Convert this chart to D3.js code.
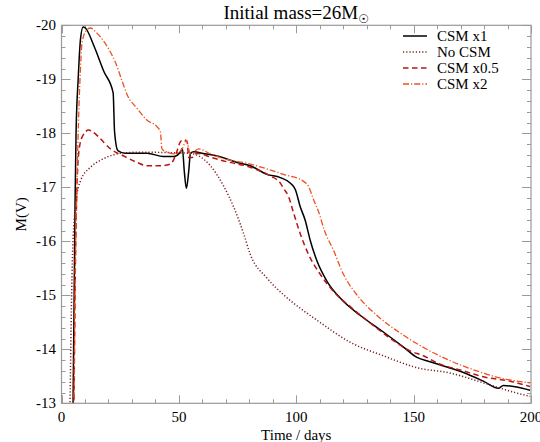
<!DOCTYPE html>
<html>
<head>
<meta charset="utf-8">
<script src="https://cdn.jsdelivr.net/npm/d3@7"></script>
<style>
  html, body { margin: 0; padding: 0; background: #fff; }
  svg { display: block; }
  svg text { font-family: 'Liberation Serif', 'DejaVu Serif', serif; }
</style>
</head>
<body>
<div id="chart"></div>
<script>
// Light curves, M(V) vs time, for a 26 Msun progenitor with varying CSM.

// [day, M(V)] pairs
const csmX1 = [
  [4.9, -12.9], [5.5, -15.5], [5.8, -16.8], [6.2, -18.0], [7.1, -19.0], [8.1, -19.75],
  [9.2, -19.97], [10.2, -19.95], [13.7, -19.63], [18.0, -19.15], [22.0, -18.75],
  [22.6, -18.03], [24.0, -17.68], [27.2, -17.63], [36.5, -17.63], [43.4, -17.57],
  [47.7, -17.57], [50.6, -17.65], [51.5, -17.72], [52.3, -17.3], [53.2, -16.98],
  [54.2, -17.3], [54.9, -17.62], [56.3, -17.66], [61.0, -17.62], [66.3, -17.58],
  [74.8, -17.46], [80.4, -17.40], [87.5, -17.24], [93.2, -17.18], [97.4, -17.08],
  [99.6, -16.96], [101.7, -16.64], [103.8, -16.39], [106.0, -16.01], [108.8, -15.64],
  [113.1, -15.26], [118.7, -14.95], [127.2, -14.63], [137.1, -14.32], [145.7, -14.04],
  [151.4, -13.85], [157.0, -13.77], [162.7, -13.69], [171.2, -13.57], [179.7, -13.41],
  [186.1, -13.28], [188.2, -13.33], [193.9, -13.30], [199.6, -13.24]
];
const noCsm = [
  [3.6, -12.9], [4.6, -15.6], [5.4, -16.4], [6.0, -16.7], [8.1, -17.12], [12.3, -17.37],
  [16.6, -17.5], [19.4, -17.56], [25.1, -17.63], [33.6, -17.65], [47.8, -17.64],
  [54.9, -17.63], [58.5, -17.58], [63.4, -17.40], [69.1, -17.02], [73.3, -16.64],
  [77.6, -16.14], [80.4, -15.76], [87.5, -15.32], [94.6, -15.01], [101.7, -14.76],
  [108.8, -14.54], [123.0, -14.13], [137.1, -13.88], [151.4, -13.66], [165.5, -13.56],
  [179.7, -13.38], [193.9, -13.19], [199.6, -13.13]
];
const csmX05 = [
  [5.3, -12.9], [5.9, -15.5], [6.6, -17.0], [7.5, -17.7], [9.0, -17.95], [11.6, -18.06],
  [13.5, -18.02], [15.9, -17.93], [20.9, -17.71], [26.5, -17.58], [32.2, -17.46],
  [36.5, -17.40], [42.1, -17.40], [46.4, -17.43], [48.5, -17.58], [50.6, -17.84],
  [51.8, -17.88], [53.5, -17.85], [54.2, -17.55], [55.6, -17.55], [57.7, -17.63],
  [63.4, -17.56], [68.0, -17.50], [80.4, -17.37], [88.9, -17.21], [93.2, -17.08],
  [94.6, -16.98], [96.7, -16.83], [98.9, -16.52], [101.7, -16.14], [105.2, -15.76],
  [110.2, -15.39], [115.9, -15.07], [123.0, -14.79], [132.9, -14.44], [141.4, -14.16],
  [148.5, -13.97], [154.2, -13.88], [159.9, -13.75], [171.2, -13.60], [179.7, -13.49],
  [191.1, -13.41], [199.6, -13.31]
];
const csmX2 = [
  [5.3, -12.9], [5.9, -15.5], [6.7, -17.3], [8.1, -19.22], [8.8, -19.69], [10.5, -19.9],
  [12.3, -19.95], [15.2, -19.85], [18.7, -19.66], [21.6, -19.44], [23.0, -19.31],
  [25.8, -18.97], [28.0, -18.71], [32.2, -18.46], [36.5, -18.24], [40.7, -18.12],
  [42.1, -18.03], [42.8, -17.71], [45.0, -17.65], [48.5, -17.62], [51.4, -17.71],
  [53.2, -17.87], [54.9, -17.62], [56.5, -17.66], [58.4, -17.71], [63.4, -17.62],
  [67.7, -17.55], [80.4, -17.43], [94.6, -17.24], [103.1, -17.11], [105.2, -17.02],
  [107.4, -16.77], [109.5, -16.55], [112.0, -16.2], [115.9, -15.83], [120.1, -15.39],
  [125.8, -15.01], [134.3, -14.63], [145.7, -14.26], [155.6, -14.00], [165.5, -13.79],
  [176.9, -13.60], [186.8, -13.47], [199.6, -13.38]
];

const xTicks = [0, 50, 100, 150, 200];
const yTicks = [-20, -19, -18, -17, -16, -15, -14, -13];

const series = [
  { name: 'CSM x1', data: csmX1, color: '#000000', dash: null, width: 1.5 },
  { name: 'No CSM', data: noCsm, color: '#7d1f1f', dash: '1.2,2', width: 1.5 },
  { name: 'CSM x0.5', data: csmX05, color: '#b81414', dash: '5.5,3.5', width: 1.5 },
  { name: 'CSM x2', data: csmX2, color: '#ee5020', dash: '6,2,1.2,2', width: 1.3 }
];

const W = 540, H = 442;
const frame = { left: 61.5, right: 531, top: 25.3, bottom: 403.3 };
const axisColor = '#9a9a9a';
const serif = "'Liberation Serif', 'Times New Roman', 'DejaVu Serif', serif";

const svg = d3.select('#chart').append('svg').attr('width', W).attr('height', H)
  .attr('font-family', serif);

const x = d3.scaleLinear().domain([0, 200]).range([frame.left, frame.right]);
const y = d3.scaleLinear().domain([-13, -20]).range([frame.bottom, frame.top]);

svg.append('defs').append('clipPath').attr('id', 'plotclip')
  .append('rect')
  .attr('x', frame.left).attr('y', frame.top)
  .attr('width', frame.right - frame.left).attr('height', frame.bottom - frame.top);

// ticks: IDL style, inward on all four sides
function drawTicks() {
  const g = svg.append('g').attr('stroke', axisColor).attr('stroke-width', 1);
  const major = 8, minor = 4;
  d3.range(0, 201, 10).forEach(v => {
    const len = v % 50 === 0 ? major : minor;
    const px = Math.round(x(v)) + 0.5;
    g.append('line').attr('x1', px).attr('x2', px).attr('y1', frame.bottom).attr('y2', frame.bottom - len);
    g.append('line').attr('x1', px).attr('x2', px).attr('y1', frame.top).attr('y2', frame.top + len);
  });
  d3.range(0, 36).forEach(i => {
    const v = -13 - i * 0.2;
    const len = i % 5 === 0 ? major + 1 : minor;
    const py = Math.round(y(v)) + 0.5;
    g.append('line').attr('x1', frame.left).attr('x2', frame.left + len).attr('y1', py).attr('y2', py);
    g.append('line').attr('x1', frame.right).attr('x2', frame.right - len).attr('y1', py).attr('y2', py);
  });
}
drawTicks();

// curves
const line = d3.line().x(d => x(d[0])).y(d => y(d[1])).curve(d3.curveMonotoneX);
const plot = svg.append('g').attr('clip-path', 'url(#plotclip)');
series.forEach(s => {
  plot.append('path')
    .datum(s.data)
    .attr('fill', 'none')
    .attr('stroke', s.color)
    .attr('stroke-width', s.width)
    .attr('stroke-dasharray', s.dash)
    .attr('stroke-linejoin', 'round')
    .attr('d', line);
});

// frame
svg.append('rect')
  .attr('x', frame.left).attr('y', frame.top)
  .attr('width', frame.right - frame.left).attr('height', frame.bottom - frame.top)
  .attr('fill', 'none').attr('stroke', axisColor).attr('stroke-width', 1.2);

// tick labels
svg.append('g').selectAll('text').data(xTicks).enter().append('text')
  .attr('x', d => x(d)).attr('y', 422)
  .attr('text-anchor', 'middle').attr('font-size', 15).attr('fill', '#000')
  .text(d => d);

svg.append('g').selectAll('text').data(yTicks).enter().append('text')
  .attr('x', 56).attr('y', d => y(d) + 5)
  .attr('text-anchor', 'end').attr('font-size', 15).attr('fill', '#000')
  .text(d => d);

// axis titles
svg.append('text')
  .attr('x', (frame.left + frame.right) / 2).attr('y', 440)
  .attr('text-anchor', 'middle').attr('font-size', 15)
  .text('Time / days');

svg.append('text')
  .attr('transform', `translate(26,${(frame.top + frame.bottom) / 2}) rotate(-90)`)
  .attr('text-anchor', 'middle').attr('font-size', 15)
  .text('M(V)');

const title = svg.append('text')
  .attr('x', (frame.left + frame.right) / 2).attr('y', 19)
  .attr('text-anchor', 'middle').attr('font-size', 19);
title.append('tspan').text('Initial mass=26M');
title.append('tspan').attr('font-size', 12).attr('dy', 4)
  .attr('font-family', 'DejaVu Sans').text('\u2609');

// legend
const legend = svg.append('g');
series.forEach((s, i) => {
  const ly = 36 + i * 16;
  legend.append('line')
    .attr('x1', 403).attr('x2', 427).attr('y1', ly).attr('y2', ly)
    .attr('stroke', s.color).attr('stroke-width', s.width)
    .attr('stroke-dasharray', s.dash);
  legend.append('text')
    .attr('x', 437).attr('y', ly + 5)
    .attr('font-size', 15).attr('fill', '#000')
    .text(s.name);
});
</script>
</body>
</html>
